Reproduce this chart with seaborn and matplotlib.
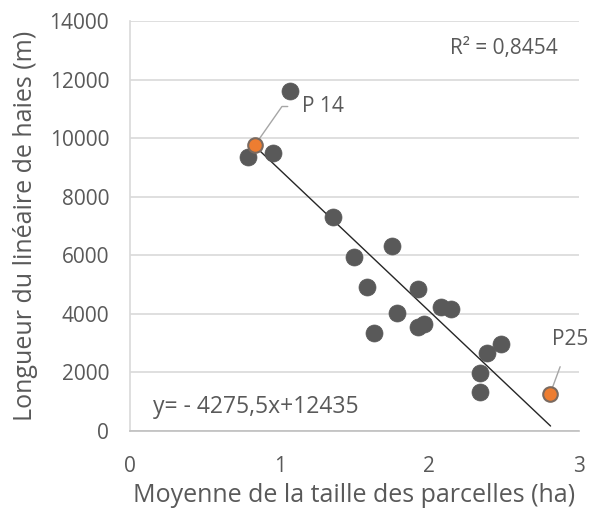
import matplotlib
matplotlib.use("Agg")
import matplotlib.pyplot as plt
import seaborn as sns
import numpy as np
import pandas as pd

# Data
taille = [1.069, 0.835, 0.79, 0.953, 1.358, 1.752, 1.496, 1.581, 1.921, 1.785,
          2.081, 2.142, 1.63, 1.925, 1.964, 2.478, 2.387, 2.338, 2.338, 2.806]
lineaire = [11620, 9765, 9344, 9502, 7317, 6316, 5952, 4927, 4838, 4039,
            4223, 4165, 3356, 3561, 3653, 2960, 2653, 1991, 1321, 1253]
groupe = ["autre", "P 14", "autre", "autre", "autre", "autre", "autre", "autre", "autre", "autre",
          "autre", "autre", "autre", "autre", "autre", "autre", "autre", "autre", "autre", "P25"]
# trend line as drawn in the reference (end points)
tendance_x = [0.815, 2.81]
tendance_y = [9820, 170]
eq_label = "y= - 4275,5x+12435"
r2_label = "R² = 0,8454"
x_ticks = [0, 1, 2, 3]
y_ticks = [0, 2000, 4000, 6000, 8000, 10000, 12000, 14000]

df = pd.DataFrame({"taille": taille, "lineaire": lineaire, "groupe": groupe})
df_trend = pd.DataFrame({"x": tendance_x, "y": tendance_y})

sns.set_style("white")
plt.rcParams["font.family"] = ["Open Sans", "DejaVu Sans"]

grey_txt = "#595959"
fig = plt.figure(figsize=(5.98, 5.13), dpi=100)
ax = fig.add_axes([130 / 598, 82 / 513, 449 / 598, 410 / 513])

ax.set_xlim(0, 3)
ax.set_ylim(0, 14000)
ax.set_xticks(x_ticks)
ax.set_yticks(y_ticks)
ax.yaxis.grid(True, color="#D9D9D9", linewidth=1.2)
ax.xaxis.grid(False)
ax.set_axisbelow(True)
for s in ["top", "right"]:
    ax.spines[s].set_visible(False)
ax.spines["left"].set_color("#D9D9D9")
ax.spines["bottom"].set_color("#BFBFBF")
ax.spines["left"].set_linewidth(1.2)
ax.spines["bottom"].set_linewidth(1.2)
ax.tick_params(axis="both", length=0, labelsize=15, colors=grey_txt)
ax.tick_params(axis="y", pad=15)
ax.tick_params(axis="x", pad=18)

sns.lineplot(data=df_trend, x="x", y="y", ax=ax, color="#262626", linewidth=1.0, zorder=2)

sns.scatterplot(data=df[df.groupe == "autre"], x="taille", y="lineaire", ax=ax,
                color="#595959", s=150, edgecolor="#595959", linewidth=0.5, zorder=3, legend=False)
sns.scatterplot(data=df[df.groupe != "autre"], x="taille", y="lineaire", ax=ax,
                color="#ED7D31", s=110, edgecolor="#7A6A60", linewidth=1.5, zorder=4, legend=False)

# annotations
p14 = df[df.groupe == "P 14"].iloc[0]
p25 = df[df.groupe == "P25"].iloc[0]
ax.annotate("P 14", xy=(p14.taille, p14.lineaire), xytext=(1.15, 11080),
            fontsize=15, color=grey_txt, va="center", ha="left",
            arrowprops=dict(arrowstyle="-", color="#A6A6A6", lw=1,
                            connectionstyle="angle,angleA=0,angleB=55,rad=0",
                            shrinkA=8, shrinkB=3))
ax.annotate("P25", xy=(p25.taille, p25.lineaire), xytext=(2.94, 3110),
            fontsize=15, color=grey_txt, va="center", ha="center",
            arrowprops=dict(arrowstyle="-", color="#A6A6A6", lw=1,
                            shrinkA=10, shrinkB=5))

ax.text(2.50, 13050, r2_label, fontsize=15, color=grey_txt, ha="center", va="center")
ax.text(0.155, 830, eq_label, fontsize=16.5, color=grey_txt, ha="left", va="center")

ax.set_xlabel("Moyenne de la taille des parcelles (ha)", fontsize=18, color=grey_txt, labelpad=4)
ax.set_ylabel("Longueur du linéaire de haies (m)", fontsize=18, color=grey_txt, labelpad=8)

fig.savefig("out.png", dpi=100)
